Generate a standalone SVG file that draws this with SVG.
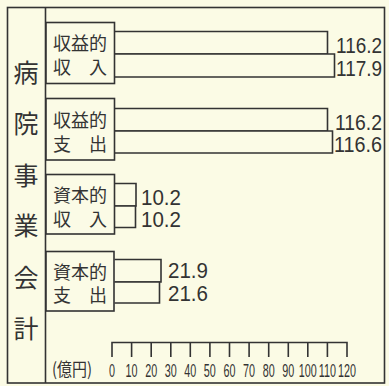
<svg xmlns="http://www.w3.org/2000/svg" width="389" height="386" viewBox="0 0 389 386">
<style>
.ln{fill:none;stroke:#333;stroke-width:1.6}
.bar{fill:#fbfbe6;stroke:#333;stroke-width:1.6}
.box{fill:#fbfbe6;stroke:#333;stroke-width:1.6}
.jp{font-family:"Noto Sans CJK JP","Noto Sans CJK SC",sans-serif;fill:#333}
.lb{font-size:18px}
.v{font-family:"Liberation Sans",Arial,sans-serif;fill:#333;font-size:22px}
.t{font-family:"Liberation Sans",Arial,sans-serif;fill:#333;font-size:18px;text-anchor:middle}
</style>
<rect x="0" y="0" width="389" height="386" fill="#fbfbe5"/>
<g id="frame">
<rect class="ln" x="7.5" y="7.5" width="377" height="375.5"/>
<line class="ln" x1="45.5" y1="7.5" x2="45.5" y2="383"/>
</g>
<g id="title" class="jp" font-size="25" text-anchor="middle">
<text x="26" y="82">病</text>
<text x="26" y="133">院</text>
<text x="26" y="185">事</text>
<text x="26" y="235">業</text>
<text x="26" y="287">会</text>
<text x="26" y="338">計</text>
</g>
<g id="connectors">
<path class="bar" d="M114.5 31.5H327.5V54H114.5"/>
<path class="bar" d="M114.5 54H334.5V77H114.5"/>
<path class="bar" d="M114.5 108.5H327.5V131H114.5"/>
<path class="bar" d="M114.5 131H332.5V153H114.5"/>
<path class="bar" d="M114.5 183.5H136V206H114.5"/>
<path class="bar" d="M114.5 206H135.5V227.5H114.5"/>
<path class="bar" d="M114.5 259.5H161V282H114.5"/>
<path class="bar" d="M114.5 282H159.5V303H114.5"/>
</g>
<g id="cat1">
<rect class="box" x="46" y="22.5" width="68.5" height="61"/>
<text class="jp lb" x="53" y="50" textLength="54" lengthAdjust="spacingAndGlyphs">収益的</text>
<text class="jp lb" x="53" y="74" textLength="54" lengthAdjust="spacingAndGlyphs">収　入</text>
<text class="v" x="336" y="53" textLength="46" lengthAdjust="spacingAndGlyphs">116.2</text>
<text class="v" x="336" y="76" textLength="46" lengthAdjust="spacingAndGlyphs">117.9</text>
</g>
<g id="cat2">
<rect class="box" x="46" y="98.5" width="68.5" height="61.5"/>
<text class="jp lb" x="53" y="127" textLength="54" lengthAdjust="spacingAndGlyphs">収益的</text>
<text class="jp lb" x="53" y="151" textLength="54" lengthAdjust="spacingAndGlyphs">支　出</text>
<text class="v" x="335" y="130" textLength="47" lengthAdjust="spacingAndGlyphs">116.2</text>
<text class="v" x="334" y="152" textLength="48" lengthAdjust="spacingAndGlyphs">116.6</text>
</g>
<g id="cat3">
<rect class="box" x="46" y="174.5" width="68.5" height="59.5"/>
<text class="jp lb" x="53" y="202" textLength="54" lengthAdjust="spacingAndGlyphs">資本的</text>
<text class="jp lb" x="53" y="226" textLength="54" lengthAdjust="spacingAndGlyphs">収　入</text>
<text class="v" x="141" y="205" textLength="40" lengthAdjust="spacingAndGlyphs">10.2</text>
<text class="v" x="141" y="227" textLength="40" lengthAdjust="spacingAndGlyphs">10.2</text>
</g>
<g id="cat4">
<rect class="box" x="46" y="251.5" width="68" height="59.5"/>
<text class="jp lb" x="53" y="279" textLength="54" lengthAdjust="spacingAndGlyphs">資本的</text>
<text class="jp lb" x="53" y="302" textLength="54" lengthAdjust="spacingAndGlyphs">支　出</text>
<text class="v" x="168" y="278" textLength="40" lengthAdjust="spacingAndGlyphs">21.9</text>
<text class="v" x="168" y="301" textLength="40" lengthAdjust="spacingAndGlyphs">21.6</text>
</g>
<g id="axis">
<path class="ln" d="M112 357V342.5H347V357M131.6 342.5V357M151.2 342.5V357M170.8 342.5V357M190.3 342.5V357M209.9 342.5V357M229.5 342.5V357M249.1 342.5V357M268.7 342.5V357M288.3 342.5V357M307.8 342.5V357M327.4 342.5V357"/>
<text class="jp" x="52" y="376" font-size="18" textLength="40" lengthAdjust="spacingAndGlyphs">(億円)</text>
<g class="t" transform="scale(0.6,1)">
<text x="186.7" y="377">0</text>
<text x="219.3" y="377">10</text>
<text x="252" y="377">20</text>
<text x="284.7" y="377">30</text>
<text x="317.2" y="377">40</text>
<text x="349.8" y="377">50</text>
<text x="382.5" y="377">60</text>
<text x="415.2" y="377">70</text>
<text x="447.8" y="377">80</text>
<text x="480.5" y="377">90</text>
<text x="513" y="377">100</text>
<text x="545.7" y="377">110</text>
<text x="578.3" y="377">120</text>
</g>
</g>
</svg>
